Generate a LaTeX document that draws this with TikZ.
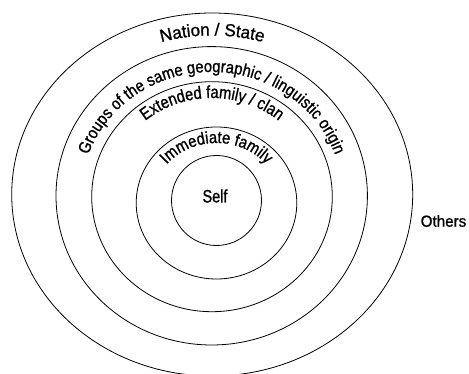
\documentclass[tikz,border=0pt]{standalone}
\usepackage{fontspec}
\setmainfont{Liberation Sans}
\newfontfamily\plainf[FakeStretch=0.95,FakeBold=1]{Liberation Sans}
\newfontfamily\nationf[FakeStretch=0.97,FakeBold=1]{Liberation Sans}
\newfontfamily\narrowf[FakeStretch=0.87,FakeBold=1]{Liberation Sans}
\newfontfamily\extf[FakeStretch=0.84,FakeBold=1]{Liberation Sans}
\newfontfamily\selff[FakeStretch=0.8,FakeBold=1]{Liberation Sans}
\usetikzlibrary{decorations.text,shapes.geometric}
\begin{document}
\begin{tikzpicture}[x=1pt,y=1pt,
  ring/.style={draw=black, line width=0.8pt, ellipse, inner sep=0pt, outer sep=0pt},
  curvetext/.style={decorate, decoration={text along path, text align=center, text={#1}}}]
\useasboundingbox (0,0) rectangle (469,374);
\clip (0,0) rectangle (469,374);
% rings
\node[ring, minimum width=401pt, minimum height=363pt] (nation) at (212.2,179.5) {};
\node[ring, minimum width=311.4pt, minimum height=298.4pt] (groups) at (211.7,178.2) {};
\node[ring, minimum width=240.6pt, minimum height=230pt] (extended) at (212,177.3) {};
\node[ring, minimum width=160.6pt, minimum height=152pt] (immediate) at (216.5,171) {};
\node[ring, circle, minimum size=90pt] (self) at (216.5,173.5) {};
\node[font=\selff\fontsize{18}{20}\selectfont, inner sep=0pt] (selflabel) at (215,178) {Self};
\node[font=\plainf\fontsize{16}{18}\selectfont] (others) at (443.5,153) {Others};
% curved labels
\path[curvetext={|\nationf\fontsize{17.5}{20}\selectfont|Nation / State}]
  (212.2,179.5) ++(180:176.5 and 159) arc[start angle=180, end angle=0, x radius=176.5, y radius=159];
\path[curvetext={|\narrowf\fontsize{17}{20}\selectfont|Groups of the same geographic / linguistic origin}]
  (211.7,178.2) ++(180:130.7 and 123.8) arc[start angle=180, end angle=0, x radius=130.7, y radius=123.8];
\path[curvetext={|\extf\fontsize{17.5}{20}\selectfont|Extended family / clan}]
  (212,177.3) ++(180:104.3 and 98.7) arc[start angle=180, end angle=0, x radius=104.3, y radius=98.7];
\path[curvetext={|\narrowf\fontsize{17}{20}\selectfont|Immediate family}]
  (216.5,171) ++(180:65 and 60) arc[start angle=180, end angle=0, x radius=65, y radius=60];
\end{tikzpicture}
\end{document}
